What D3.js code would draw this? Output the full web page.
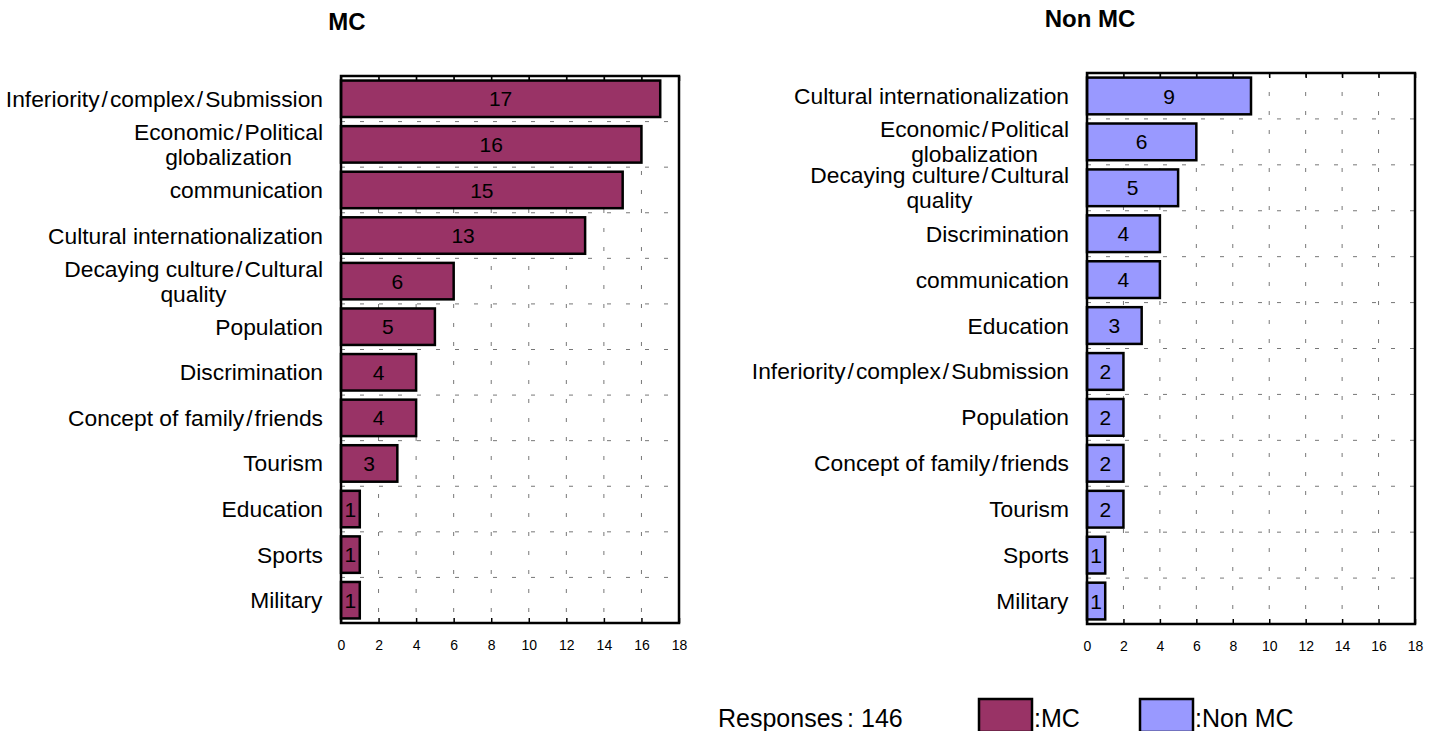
<!DOCTYPE html>
<html><head><meta charset="utf-8">
<script src="https://cdn.jsdelivr.net/npm/d3@7"></script>
<style>
body{margin:0;background:#fff}
svg{display:block}
text{font-family:"Liberation Sans",Arial,Helvetica,sans-serif;fill:#000}
</style>
</head><body>
<svg id="c" width="1439" height="731"></svg>
<script>
// ---- data ----
const mcCategories = ["Inferiority/complex/Submission","Economic/Political\nglobalization","communication","Cultural internationalization","Decaying culture/Cultural\nquality","Population","Discrimination","Concept of family/friends","Tourism","Education","Sports","Military"];
const mcValues = [17,16,15,13,6,5,4,4,3,1,1,1];
const nonMcCategories = ["Cultural internationalization","Economic/Political\nglobalization","Decaying culture/Cultural\nquality","Discrimination","communication","Education","Inferiority/complex/Submission","Population","Concept of family/friends","Tourism","Sports","Military"];
const nonMcValues = [9,6,5,4,4,3,2,2,2,2,1,1];
const xTicks = [0,2,4,6,8,10,12,14,16,18];
const xMax = 18;
const panelTitles = ["MC","Non MC"];
const legendLabels = [":MC",":Non MC"];
const responsesLabel = "Responses: 146";
const seriesColors = ["#993366","#9999FF"];

const svg = d3.select("#c");

function addLabel(g, rightX, cy, label){
  const lines = label.split("\n");
  const lh = 25;
  const t0 = cy - (lines.length-1)*lh/2;
  const texts = lines.map((ln,i)=>{
    const t = g.append("text").attr("font-size",22.8).attr("y", t0 + i*lh).attr("dy","0.35em").attr("x",0);
    const parts = ln.split("/");
    parts.forEach((p,j)=>{
      if(j>0){ t.append("tspan").attr("dx",2).text("/"); }
      t.append("tspan").attr("dx", j>0?2:0).text(p);
    });
    return t;
  });
  const ws = texts.map(t=>t.node().getBBox().width);
  const maxW = d3.max(ws);
  texts.forEach((t,i)=>{
    t.attr("x", rightX - maxW + (maxW-ws[i])/2);
  });
}

function drawPanel(cfg){
  const {x0,x1,y0,y1,cats,vals,color,title,titleX,titleY} = cfg;
  const x = d3.scaleLinear().domain([0,xMax]).range([x0,x1]);
  const y = d3.scaleBand().domain(cats).range([y0,y1]).paddingInner(0.2).paddingOuter(0.1);
  const g = svg.append("g");
  // grid vertical
  g.append("g").selectAll("line").data(xTicks.filter(d=>d>0&&d<xMax)).join("line")
    .attr("x1",d=>x(d)).attr("x2",d=>x(d)).attr("y1",y0).attr("y2",y1)
    .attr("stroke","#777").attr("stroke-width",1).attr("stroke-dasharray","4,15");
  // grid horizontal at band boundaries
  const bounds = d3.range(1,cats.length).map(i=> y0 + (y1-y0)*i/cats.length);
  g.append("g").selectAll("line").data(bounds).join("line")
    .attr("x1",x0).attr("x2",x1).attr("y1",d=>d).attr("y2",d=>d)
    .attr("stroke","#777").attr("stroke-width",1).attr("stroke-dasharray","4,15");
  // axes ticks (inner)
  const bottom = g.append("g").attr("transform",`translate(0,${y1})`)
    .call(d3.axisBottom(x).tickValues(xTicks).tickSize(-5).tickPadding(17).tickFormat(d3.format("d")));
  bottom.select(".domain").remove();
  bottom.selectAll("line").attr("stroke","#000").attr("stroke-width",1.5);
  bottom.selectAll("text").attr("font-size",14).attr("font-family","Liberation Sans, Arial, sans-serif").attr("fill","#000");
  const top = g.append("g").attr("transform",`translate(0,${y0})`)
    .call(d3.axisTop(x).tickValues(xTicks).tickSize(-5).tickFormat(""));
  top.select(".domain").remove();
  top.selectAll("line").attr("stroke","#000").attr("stroke-width",1.5);
  // bars
  g.append("g").selectAll("rect").data(cats).join("rect")
    .attr("x",x(0)).attr("y",d=>y(d)).attr("width",(d,i)=>x(vals[i])-x(0)).attr("height",y.bandwidth())
    .attr("fill",color).attr("stroke","#000").attr("stroke-width",2.5);
  // value labels
  g.append("g").selectAll("text").data(cats).join("text")
    .attr("x",(d,i)=>x(vals[i]/2)).attr("y",d=>y(d)+y.bandwidth()/2).attr("dy","0.36em")
    .attr("text-anchor","middle").attr("font-size",21).text((d,i)=>vals[i]);
  // frame
  g.append("rect").attr("x",x0).attr("y",y0).attr("width",x1-x0).attr("height",y1-y0)
    .attr("fill","none").attr("stroke","#000").attr("stroke-width",2.5);
  // category labels
  const lg = g.append("g");
  cats.forEach(c=> addLabel(lg, x0-18, y(c)+y.bandwidth()/2, c));
  // title
  svg.append("text").attr("x",titleX).attr("y",titleY).attr("text-anchor","middle")
    .attr("font-size",24).attr("font-weight","bold").text(title);
}

drawPanel({x0:341,x1:679,y0:76,y1:623,cats:mcCategories,vals:mcValues,color:seriesColors[0],title:panelTitles[0],titleX:347,titleY:30});
drawPanel({x0:1087,x1:1415,y0:73,y1:624,cats:nonMcCategories,vals:nonMcValues,color:seriesColors[1],title:panelTitles[1],titleX:1090,titleY:27});

// legend
const leg = svg.append("g");
const rt = leg.append("text").attr("x",718).attr("y",727).attr("font-size",25);
rt.append("tspan").text("Responses");
rt.append("tspan").attr("dx",4).text(":");
rt.append("tspan").text(" 146");
const boxX = [979,1140];
const textX = [1034,1195];
seriesColors.forEach((c,i)=>{
  leg.append("rect").attr("x",boxX[i]).attr("y",699).attr("width",53).attr("height",33)
    .attr("fill",c).attr("stroke","#000").attr("stroke-width",2.5);
  leg.append("text").attr("x",textX[i]).attr("y",727).attr("font-size",25).text(legendLabels[i]);
});
</script>
</body></html>
